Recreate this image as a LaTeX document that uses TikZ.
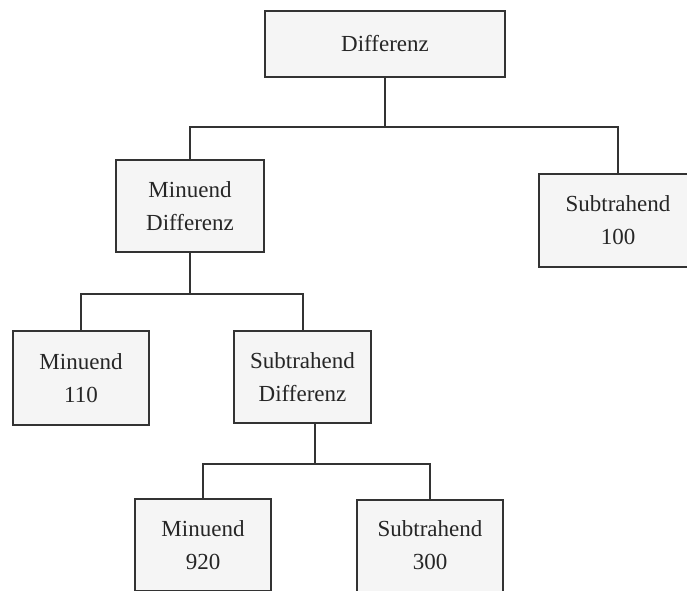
\documentclass[tikz,border=0pt]{standalone}
\usepackage{fontspec}
\setmainfont{Liberation Serif}
\usetikzlibrary{positioning}

\begin{document}
\begin{tikzpicture}[x=1pt, y=-1pt,
    box/.style={draw=black!80, line width=2pt, fill=black!4, align=center,
        inner sep=0pt, text=black!85, font=\fontsize{23}{33}\selectfont},
    conn/.style={draw=black!80, line width=2pt}]
    \useasboundingbox (0, 0) rectangle (687, 590);
    \clip (0, 0) rectangle (687, 590);
    \node[box, minimum width=240pt, minimum height=66pt] (diff) at (385, 44) {Differenz};
    \node[box, minimum width=148pt, minimum height=92pt] (mdiff) at (190, 206) {Minuend\\Differenz};
    \node[box, minimum width=158pt, minimum height=93pt] (s100) at (618, 220.5) {Subtrahend\\100};
    \node[box, minimum width=136pt, minimum height=94pt] (m110) at (81, 378) {Minuend\\110};
    \node[box, minimum width=137pt, minimum height=92pt] (sdiff) at (302.5, 377) {Subtrahend\\Differenz};
    \node[box, minimum width=136pt, minimum height=92pt] (m920) at (203, 545) {Minuend\\920};
    \node[box, minimum width=146pt, minimum height=92pt] (s300) at (430, 545.5) {Subtrahend\\300};
    \draw[conn]
    (diff.south) -- ++(0, 49) coordinate (j1)
    (mdiff.north) |- (j1) -| (s100.north);
    \draw[conn]
    (mdiff.south) -- ++(0, 41) coordinate (j2)
    (m110.north) |- (j2) -| (sdiff.north);
    \draw[conn]
    ([xshift=12pt]sdiff.south) -- ++(0, 40) coordinate (j3)
    (m920.north) |- (j3) -| (s300.north);
\end{tikzpicture}
\end{document}
